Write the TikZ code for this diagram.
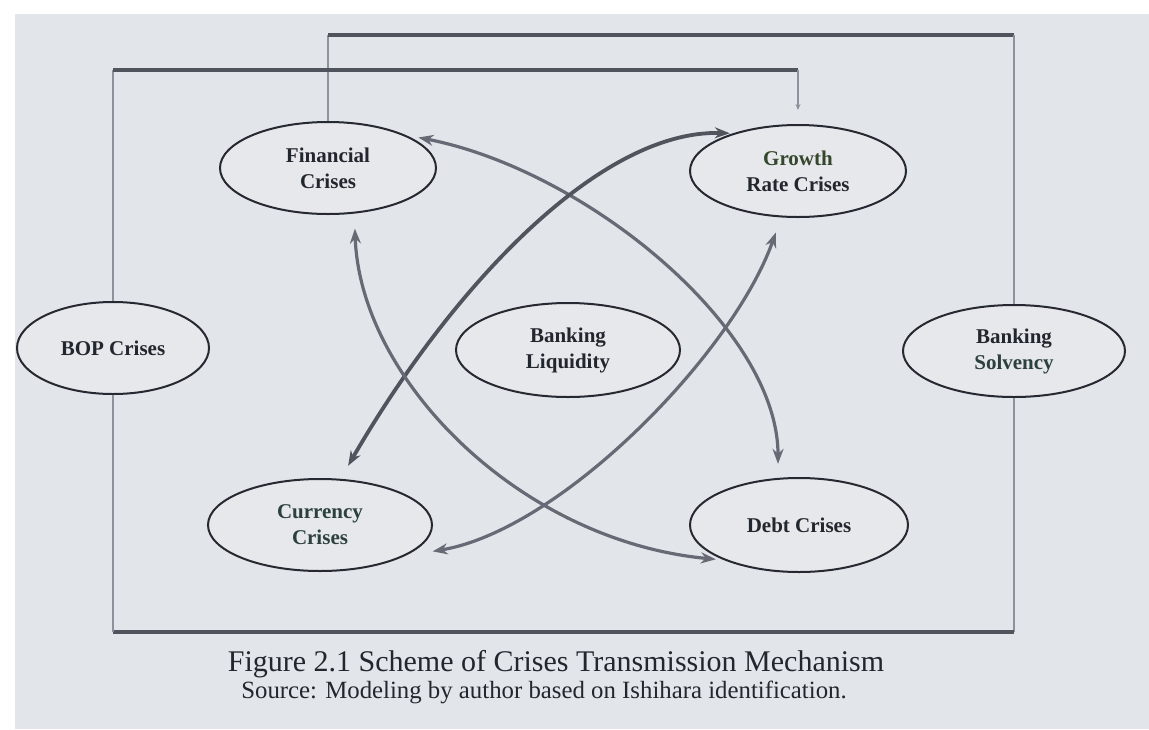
\documentclass[tikz,border=0pt]{standalone}
\usepackage{fontspec}
\setmainfont{Liberation Serif}
\usetikzlibrary{shapes.geometric,arrows.meta}
\definecolor{panel}{HTML}{E2E5EA}
\definecolor{nodefill}{HTML}{E7E8EB}
\definecolor{rim}{HTML}{262932}
\definecolor{wire}{HTML}{50545D}
\definecolor{wirelight}{HTML}{8C929C}
\definecolor{arc}{HTML}{676A74}
\definecolor{ink}{HTML}{22262E}
\definecolor{inkgreen}{HTML}{34472C}
\definecolor{inkteal}{HTML}{2C403F}

\begin{document}
\begin{tikzpicture}[x=1pt,y=-1pt,
  crisis/.style={ellipse, draw=rim, line width=2pt, fill=nodefill, inner sep=0pt,
    align=center, font=\fontsize{21}{26}\selectfont\bfseries, text=ink},
  hwire/.style={draw=wire, line width=3.2pt},
  vwire/.style={draw=wirelight, line width=1.2pt},
  link/.style={draw=arc, line width=3.2pt,
    {Stealth[length=15pt,width=11pt]}-{Stealth[length=15pt,width=11pt]}},
  caption/.style={text=ink, anchor=base, inner sep=0pt}
]
% page and grey panel
\fill[white] (0,0) rectangle (1149,729);
\fill[panel] (15,14) rectangle (1149,729);
\useasboundingbox (0,0) rectangle (1149,729);

% crisis nodes
\node[crisis, minimum width=216pt, minimum height=92pt] (fin) at (328,168) {Financial\\Crises};
\node[crisis, minimum width=216pt, minimum height=92pt] (gro) at (798,171) {\textcolor{inkgreen}{Growth}\\Rate Crises};
\node[crisis, minimum width=192pt, minimum height=92pt] (bop) at (113,348) {BOP Crises};
\node[crisis, minimum width=224pt, minimum height=94pt] (liq) at (568,350) {Banking\\Liquidity};
\node[crisis, minimum width=222pt, minimum height=92pt] (sol) at (1014,351) {Banking\\\textcolor{inkteal}{Solvency}};
\node[crisis, minimum width=224pt, minimum height=92pt, text=inkteal] (cur) at (320,525) {Currency\\Crises};
\node[crisis, minimum width=218pt, minimum height=94pt] (debt) at (799,525) {Debt Crises};

% corners of the rectangular feedback wiring
\coordinate (tl) at (fin.north |- 0,35);
\coordinate (tr) at (sol.north |- 0,35);
\coordinate (br) at (sol.south |- 0,632);
\coordinate (bl) at (bop.south |- 0,632);
\coordinate (ml) at (bop.north |- 0,70);
\coordinate (mr) at (gro.north |- 0,70);

\draw[vwire] (fin.north) -- (tl);
\draw[hwire] (tl) -- (tr);
\draw[vwire] (tr) -- (sol.north);
\draw[vwire] (sol.south) -- (br);
\draw[hwire] (br) -- (bl);
\draw[vwire] (bl) -- (bop.south);
\draw[vwire] (bop.north) -- (ml);
\draw[hwire] (ml) -- (mr);
\draw[vwire, -{Stealth[length=6pt,width=5pt]}, shorten >=14pt] (mr) -- (gro.north);

% curved two-way transmission links
\draw[link, shorten <=13pt, shorten >=14pt]
  (fin.23) .. controls +(180,35) and +(0,-150) .. (debt.114);
\draw[link, line width=3.8pt, draw=wire, shorten <=3pt, shorten >=15pt]
  (gro.150) .. controls +(-134,-4) and +(110,-190) .. (cur.66);
\draw[link, shorten <=15pt, shorten >=8pt]
  (fin.-60) .. controls +(6,167) and +(-203,-19) .. (debt.205);
\draw[link, shorten <=16pt, shorten >=28pt]
  (gro.250) .. controls +(-48,136) and +(156,-26) .. (cur.-20);

% caption
\node[caption, font=\fontsize{30}{34}\selectfont] (cap) at (556,671)
  {Figure 2.1 Scheme of Crises Transmission Mechanism};
\node[caption, font=\fontsize{24.8}{28}\selectfont] (src) at (544,698)
  {Source: Modeling by author based on Ishihara identification.};
\end{tikzpicture}
\end{document}
